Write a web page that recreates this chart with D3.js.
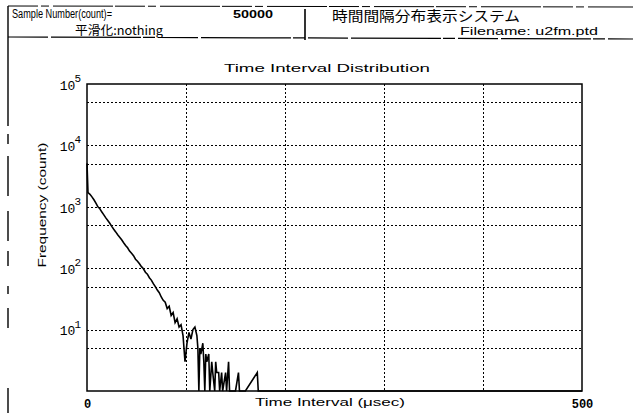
<!DOCTYPE html>
<html>
<head>
<meta charset="utf-8">
<script src="https://cdn.jsdelivr.net/npm/d3@7"></script>
<style>
  body { margin: 0; background: #fff; }
  svg { display: block; }
  text { font-family: "Liberation Sans", "DejaVu Sans", sans-serif; fill: #000; }
</style>
</head>
<body>
<svg id="chart" width="633" height="413"></svg>
<script>
// time interval (usec) and counts
var times = [0, 1, 3, 5, 7, 9, 11, 13, 15, 17, 19, 21, 23, 25, 27, 29, 31, 33, 35, 37,
  39, 41, 43, 45, 47, 49, 51, 53, 55, 57, 59, 61, 63, 65, 67, 69, 71, 73, 75, 77,
  79, 81, 83, 85, 87, 89, 91, 93, 95, 97, 99, 101, 103, 105, 107, 109, 111, 112, 113, 114,
  115, 117, 118, 119, 120, 121, 123, 124, 126, 127, 129, 130, 131, 133, 134, 136, 137, 140, 141, 143,
  144, 150, 153, 154, 160, 172, 173, 500];
var counts = [5100, 1700, 1600, 1450, 1300, 1150, 1000, 930, 820, 740, 660, 600, 540, 480, 430, 390, 350, 320, 290, 260,
  235, 215, 190, 175, 160, 140, 130, 118, 106, 98, 86, 80, 70, 64, 56, 50, 44, 40, 34, 30,
  28, 22, 24, 17, 19, 13, 15, 11, 12, 8, 3, 6, 9, 7, 10, 11, 8, 5, 1, 5,
  4, 6, 3, 1, 4, 3, 4, 1, 3, 2, 1, 3, 2, 2, 1, 2, 1, 2, 1, 3,
  1, 1, 2, 1, 1, 2, 1, 1];

var decadeTicks = [1e1, 1e2, 1e3, 1e4, 1e5];
var halfTicks = [5, 50, 500, 5000, 50000];
var xGridTicks = [100, 200, 300, 400];
var xTickLabels = [0, 500];

(function() {
  var svg = d3.select("#chart");
  var pl = 87, pr = 582, pt = 84, pb = 391;

  var x = d3.scaleLinear().domain([0, 500]).range([pl, pr]);
  var y = d3.scaleLog().domain([1, 1e5]).range([pb, pt]);

  // header box
  svg.append("line").attr("x1", 8).attr("x2", 633).attr("y1", 6).attr("y2", 7)
    .attr("stroke", "#000").attr("stroke-width", 1).attr("stroke-dasharray", "30,3,8,4,60,2");
  svg.append("line").attr("x1", 8).attr("x2", 633).attr("y1", 37).attr("y2", 39)
    .attr("stroke", "#000").attr("stroke-width", 1.2).attr("stroke-dasharray", "40,3,90,2,12,3");
  svg.append("line").attr("x1", 8).attr("x2", 8).attr("y1", 6).attr("y2", 413)
    .attr("stroke", "#000").attr("stroke-width", 1.4).attr("stroke-dasharray", "120,8,10,12,40,15,30,10,15,20,8,14,20,60");
  svg.append("line").attr("x1", 305).attr("x2", 305).attr("y1", 9).attr("y2", 40)
    .attr("stroke", "#000").attr("stroke-width", 1.6);

  svg.append("text").attr("x", 12).attr("y", 18).attr("font-size", 12)
    .attr("textLength", 100).attr("lengthAdjust", "spacingAndGlyphs").text("Sample Number(count)=");
  svg.append("text").attr("x", 233).attr("y", 18).attr("font-size", 11).attr("font-weight", "bold")
    .attr("textLength", 40).attr("lengthAdjust", "spacingAndGlyphs").text("50000");
  svg.append("text").attr("x", 75).attr("y", 35).attr("font-size", 12)
    .style("font-family", "'Noto Sans CJK JP', sans-serif")
    .attr("textLength", 88).attr("lengthAdjust", "spacingAndGlyphs").text("平滑化:nothing");
  svg.append("text").attr("x", 332).attr("y", 21).attr("font-size", 14)
    .style("font-family", "'Noto Sans CJK JP', sans-serif")
    .attr("textLength", 188).attr("lengthAdjust", "spacingAndGlyphs").text("時間間隔分布表示システム");
  svg.append("text").attr("x", 460).attr("y", 35).attr("font-size", 11)
    .attr("textLength", 138).attr("lengthAdjust", "spacingAndGlyphs").text("Filename: u2fm.ptd");

  // grid
  var grid = svg.append("g").attr("stroke", "#000").attr("stroke-width", 1).attr("stroke-dasharray", "2,2");
  grid.selectAll("line.h")
    .data(decadeTicks.slice(0, 4).concat(halfTicks))
    .enter().append("line")
    .attr("class", "h")
    .attr("x1", pl).attr("x2", pr)
    .attr("y1", function(d) { return Math.round(y(d)) + 0.5; })
    .attr("y2", function(d) { return Math.round(y(d)) + 0.5; });
  grid.selectAll("line.v")
    .data(xGridTicks)
    .enter().append("line")
    .attr("class", "v")
    .attr("y1", pt).attr("y2", pb)
    .attr("x1", function(d) { return Math.round(x(d)) + 0.5; })
    .attr("x2", function(d) { return Math.round(x(d)) + 0.5; });

  // frame
  svg.append("rect").attr("x", pl).attr("y", pt)
    .attr("width", pr - pl).attr("height", pb - pt)
    .attr("fill", "none").attr("stroke", "#000").attr("stroke-width", 1.5);

  // data line
  var line = d3.line()
    .x(function(d, i) { return x(times[i]); })
    .y(function(d) { return y(Math.max(d, 1)); });
  svg.append("path").datum(counts)
    .attr("d", line)
    .attr("fill", "none").attr("stroke", "#000").attr("stroke-width", 1.6);

  // axes
  var xAxis = svg.append("g").attr("transform", "translate(0," + pb + ")")
    .call(d3.axisBottom(x).tickValues(xTickLabels).tickSize(0).tickPadding(8));
  xAxis.select(".domain").remove();
  xAxis.selectAll("text").attr("font-size", 12).attr("font-weight", "bold")
    .style("font-family", "'Liberation Mono', monospace");

  var yAxis = svg.append("g").attr("transform", "translate(" + pl + ",0)")
    .call(d3.axisLeft(y).tickValues(decadeTicks).tickSize(0).tickPadding(6).tickFormat(function() { return ""; }));
  yAxis.select(".domain").remove();
  yAxis.selectAll(".tick text").each(function(d) {
    var t = d3.select(this).attr("font-size", 13).attr("dy", "0.4em")
      .style("font-family", "'Liberation Mono', monospace");
    t.append("tspan").text("10");
    t.append("tspan").attr("dy", "-0.7em").attr("dx", "-1").attr("font-size", 11)
      .text(Math.round(Math.log10(d)));
  });

  // titles
  svg.append("text").attr("x", 327).attr("y", 72).attr("text-anchor", "middle").attr("font-size", 11)
    .attr("textLength", 206).attr("lengthAdjust", "spacingAndGlyphs").text("Time Interval Distribution");
  svg.append("text").attr("x", 330).attr("y", 406).attr("text-anchor", "middle").attr("font-size", 11)
    .attr("textLength", 150).attr("lengthAdjust", "spacingAndGlyphs").text("Time Interval (μsec)");
  svg.append("text").attr("transform", "translate(46,205) rotate(-90)").attr("text-anchor", "middle")
    .attr("font-size", 11).attr("textLength", 125).attr("lengthAdjust", "spacingAndGlyphs")
    .text("Frequency (count)");
})();
</script>
</body>
</html>
